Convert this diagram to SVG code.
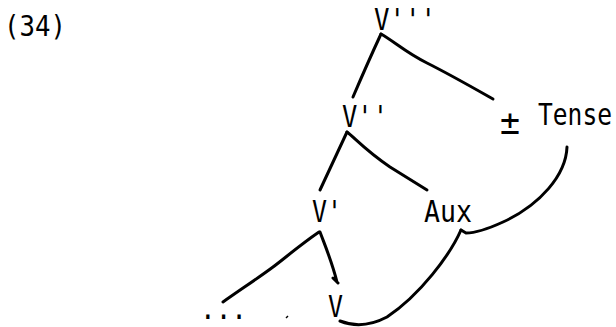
<svg xmlns="http://www.w3.org/2000/svg" width="616" height="327" viewBox="0 0 616 327">
<style>
.t{font-family:"DejaVu Sans Mono","Liberation Mono",monospace;font-size:30px;fill:#000}
.c{fill:none;stroke:#000;stroke-width:3;stroke-linecap:round;stroke-linejoin:round}
</style>
<rect width="616" height="327" fill="#fff"/>
<text class="t" x="4" y="36" style="font-size:28px" textLength="62" lengthAdjust="spacingAndGlyphs">(34)</text>
<g id="n_v3"><text class="t" x="374" y="30" textLength="62" lengthAdjust="spacingAndGlyphs">V'''</text></g>
<g id="n_v2"><text class="t" x="342" y="127" textLength="46" lengthAdjust="spacingAndGlyphs">V''</text></g>
<g id="n_tense"><text class="t" x="500" y="134" style="font-size:36px" textLength="20" lengthAdjust="spacingAndGlyphs">±</text><text class="t" transform="translate(538,125) scale(0.82,1)" x="0" y="0">Tense</text></g>
<g id="n_v1"><text class="t" x="312" y="222" textLength="30" lengthAdjust="spacingAndGlyphs">V'</text></g>
<g id="n_aux"><text class="t" x="424" y="222" textLength="48" lengthAdjust="spacingAndGlyphs">Aux</text></g>
<g id="n_dots"><text class="t" x="200" y="319" textLength="47" lengthAdjust="spacingAndGlyphs">...</text></g>
<g id="n_v0"><text class="t" x="328" y="317" textLength="15" lengthAdjust="spacingAndGlyphs">V</text></g>
<g id="connectors">
<path class="c" d="M381,34 Q368,62 353,97"/>
<path class="c" d="M381,34 C395,42 405,52 427,63 S470,86 493,99"/>
<path class="c" d="M347,132 L320,190"/>
<path class="c" d="M347,132 C355,138 365,150 390,167 L427,190"/>
<path class="c" d="M319,232 C300,245 285,258 273,267 S240,290 223,302"/>
<path class="c" d="M320,232 C326,248 332,262 337,282 M333,278 L338,283"/>
<path class="c" d="M567,147 C566,175 540,205 503,222 C490,228 475,233 466,233 L461,230"/>
<path class="c" d="M461,230 C450,255 420,295 387,317 C370,326 355,327 340,321"/>
<path d="M286,318 l2,-2" stroke="#000" stroke-width="1.5" fill="none"/>
</g>
</svg>
